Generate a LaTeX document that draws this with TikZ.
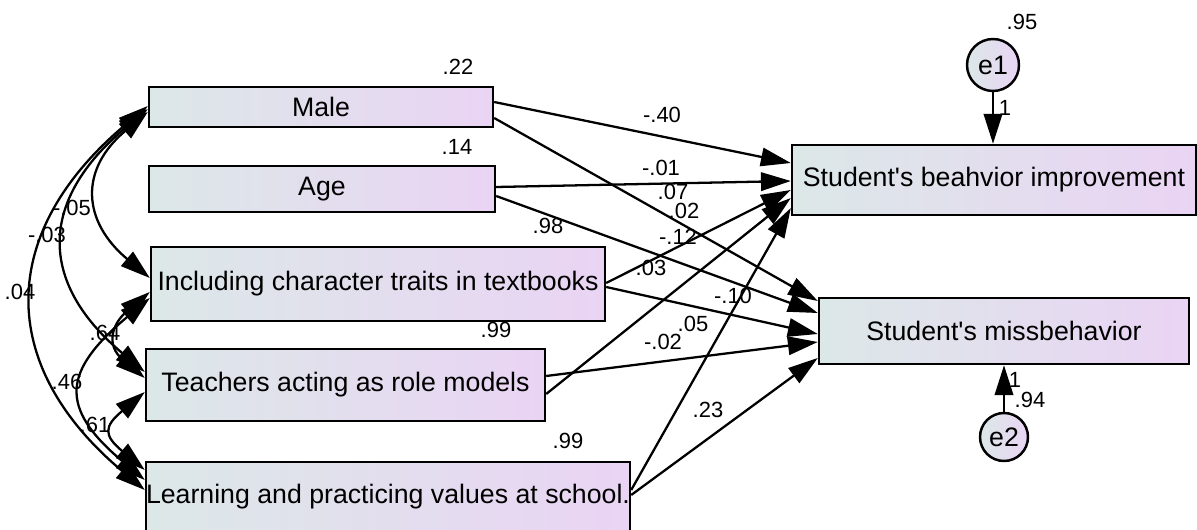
\documentclass[tikz,border=0pt]{standalone}
\usepackage{fontspec}
\setmainfont{Liberation Sans}
\usepackage{tikz}
\usetikzlibrary{arrows.meta,calc}
\definecolor{boxleft}{RGB}{220,232,232}
\definecolor{boxright}{RGB}{234,212,244}

\begin{document}
\begin{tikzpicture}[x=0.02cm, y=0.02cm,
    varbox/.style={draw, line width=1.4pt, left color=boxleft, right color=boxright, inner sep=0pt, font=\fontsize{15.2}{18}\selectfont},
    errnode/.style={draw, circle, line width=1.4pt, left color=boxleft, right color=boxright, inner sep=0pt, font=\fontsize{15.2}{18}\selectfont},
    regline/.style={-{Triangle[length=17pt,width=10.5pt]}, line width=1.3pt},
    covline/.style={{Triangle[length=17pt,width=10.5pt]}-{Triangle[length=17pt,width=10.5pt]}, line width=1.3pt},
    coef/.style={font=\fontsize{12.5}{14}\selectfont, inner sep=1pt}]
    \useasboundingbox (0,0) rectangle (1197,-530);

    % observed variables
    \node[varbox, minimum width=6.88cm, minimum height=0.8cm] (male) at (321,-107) {Male};
    \node[varbox, minimum width=6.92cm, minimum height=0.92cm] (age) at (322,-189) {Age};
    \node[varbox, minimum width=9.08cm, minimum height=1.48cm] (incl) at (378,-284) {Including character traits in textbooks};
    \node[varbox, minimum width=7.98cm, minimum height=1.44cm] (teach) at (345.5,-385) {Teachers acting as role models};
    \node[varbox, minimum width=9.68cm, minimum height=1.4cm] (learn) at (388,-497) {Learning and practicing values at school.};
    \node[varbox, minimum width=8.08cm, minimum height=1.4cm] (improve) at (994,-180) {Student\textquotesingle s beahvior improvement};
    \node[varbox, minimum width=7.4cm, minimum height=1.32cm] (misbeh) at (1004,-331) {Student\textquotesingle s missbehavior};

    % error terms
    \node[errnode, minimum size=1.04cm] (e1) at (993,-65) {e1};
    \node[errnode, minimum size=0.96cm] (e2) at (1004,-437) {e2};
    \draw[regline] (e1) -- (e1 |- improve.north);
    \draw[regline] (e2) -- (e2 |- misbeh.south);

    % regression paths
    \draw[regline] ($(male.east)+(0,5)$) -- ($(improve.west)+(0,17)$);
    \draw[regline] ($(male.east)+(0,-11)$) -- ($(misbeh.west)+(0,30)$);
    \draw[regline] ($(age.east)+(0,2)$) -- ($(improve.west)+(0,-1)$);
    \draw[regline] ($(age.east)+(0,-7)$) -- ($(misbeh.west)+(0,18)$);
    \draw[regline] ($(incl.east)+(0,1)$) -- ($(improve.west)+(0,-10)$);
    \draw[regline] ($(incl.east)+(0,-3)$) -- ($(misbeh.west)+(0,-3)$);
    \draw[regline] ($(teach.east)+(0,-9)$) -- ($(improve.west)+(0,-18)$);
    \draw[regline] ($(teach.east)+(0,9)$) -- ($(misbeh.west)+(0,-11)$);
    \draw[regline] ($(learn.east)+(0,7)$) -- ($(improve.west)+(0,-28)$);
    \draw[regline] ($(learn.east)+(0,2)$) -- ($(misbeh.west)+(0,-27)$);

    % covariances
    \draw[covline] ($(male.west)+(0,-5)$) to[out=220, in=140, looseness=1.37] ($(incl.west)+(0,6)$);
    \draw[covline] ($(male.west)+(0,-2)$) to[out=220, in=140, looseness=1.37] ($(teach.west)+(0,13)$);
    \draw[covline] ($(male.west)+(0,1)$) to[out=220, in=140, looseness=1.3] ($(learn.west)+(0,7)$);
    \draw[covline] ($(incl.west)+(0,-8)$) to[out=220, in=140, looseness=1.5] ($(teach.west)+(0,7)$);
    \draw[covline] ($(incl.west)+(0,-14)$) to[out=220, in=140, looseness=1.59] ($(learn.west)+(0,17)$);
    \draw[covline] ($(teach.west)+(0,-7)$) to[out=220, in=140, looseness=1.77] ($(learn.west)+(0,27)$);

    % squared multiple correlations
    \node[coef] (r1) at (458,-67) {.22};
    \node[coef] (r2) at (457,-147) {.14};
    \node[coef] (r3) at (548,-226) {.98};
    \node[coef] (r4) at (496,-330) {.99};
    \node[coef] (r5) at (568,-441) {.99};
    \node[coef] (r6) at (1022,-22) {.95};
    \node[coef] (r7) at (1030,-400) {.94};
    \node[coef] (one1) at (1005,-108) {1};
    \node[coef] (one2) at (1015,-380) {1};

    % path coefficients
    \node[coef] (w1) at (662,-115) {-.40};
    \node[coef] (w2) at (661,-168) {-.01};
    \node[coef] (w3) at (673,-192) {.07};
    \node[coef] (w4) at (684,-211) {.02};
    \node[coef] (w5) at (678,-237) {-.12};
    \node[coef] (w6) at (651,-268) {.03};
    \node[coef] (w7) at (733,-296) {-.10};
    \node[coef] (w8) at (693,-324) {.05};
    \node[coef] (w9) at (663,-342) {-.02};
    \node[coef] (w10) at (708,-410) {.23};

    % covariance values
    \node[coef] (c1) at (72,-208) {-.05};
    \node[coef] (c2) at (47,-235) {-.03};
    \node[coef] (c3) at (20,-292) {.04};
    \node[coef] (c4) at (105,-333) {.64};
    \node[coef] (c5) at (67,-382) {.46};
    \node[coef] (c6) at (95,-425) {.61};
\end{tikzpicture}
\end{document}
